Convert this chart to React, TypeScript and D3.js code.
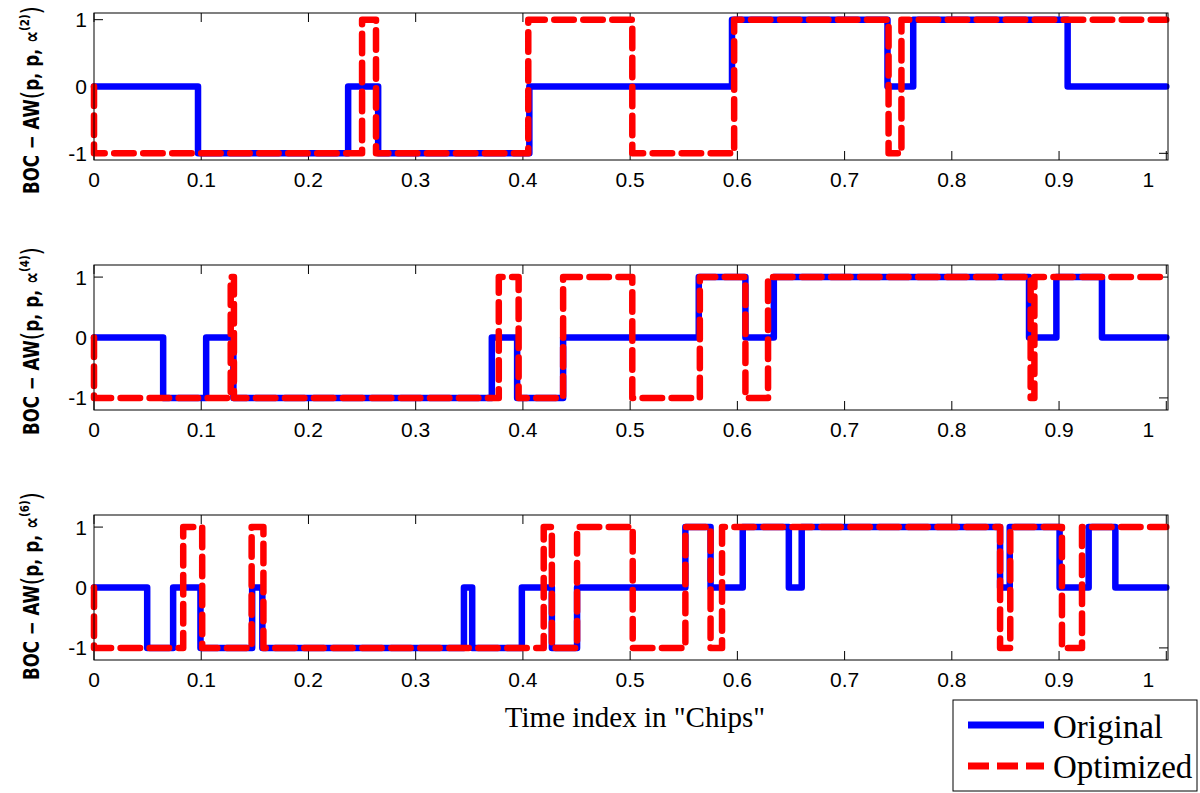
import React from "react";
import * as d3 from "d3";

// ---- data (step signals: edges has one more entry than levels) ----
const xTicks = [0, 0.1, 0.2, 0.3, 0.4, 0.5, 0.6, 0.7, 0.8, 0.9, 1];
const xTickLabels = ["0", "0.1", "0.2", "0.3", "0.4", "0.5", "0.6", "0.7", "0.8", "0.9", "1"];
const yTicks = [-1, 0, 1];
const yTickLabels = ["-1", "0", "1"];
const seriesNames = ["Original", "Optimized"];
const panelOrders = ["2", "4", "6"];

const p1OrigEdges = [0, 0.097, 0.237, 0.265, 0.406, 0.595, 0.74, 0.764, 0.908, 1.0];
const p1OrigLevels = [0, -1, 0, -1, 0, 1, 0, 1, 0];
const p1OptEdges = [0, 0, 0.25, 0.263, 0.405, 0.502, 0.597, 0.741, 0.753, 1.0];
const p1OptLevels = [0, -1, 1, -1, 1, -1, 1, -1, 1];

const p2OrigEdges = [0, 0.0645, 0.1046, 0.13, 0.371, 0.3946, 0.4375, 0.564, 0.6075, 0.634, 0.872, 0.8975, 0.94, 1.0];
const p2OrigLevels = [0, -1, 0, -1, 0, -1, 0, 1, 0, 1, 0, 1, 0];
const p2OptEdges = [0, 0, 0.1275, 0.1305, 0.3775, 0.396, 0.4375, 0.502, 0.565, 0.6075, 0.6286, 0.8735, 0.877, 1.0];
const p2OptLevels = [0, -1, 1, -1, 1, -1, 1, -1, 1, -1, 1, -1, 1];

const p3OrigEdges = [0, 0.0496, 0.0738, 0.0993, 0.1475, 0.157, 0.345, 0.3527, 0.399, 0.427, 0.4505, 0.5515, 0.575, 0.605, 0.648, 0.66, 0.845, 0.854, 0.9005, 0.9276, 0.9525, 1.0];
const p3OrigLevels = [0, -1, 0, -1, 0, -1, 0, -1, 0, -1, 0, 1, 0, 1, 0, 1, 0, 1, 0, 1, 0];
const p3OptEdges = [0, 0, 0.0832, 0.1009, 0.147, 0.158, 0.4194, 0.427, 0.4505, 0.5024, 0.5515, 0.575, 0.5857, 0.845, 0.8545, 0.9027, 0.9214, 1.0];
const p3OptLevels = [0, -1, 1, -1, 1, -1, 1, -1, 1, -1, 1, -1, 1, -1, 1, -1, 1];

const panels = [
  { orig: [p1OrigEdges, p1OrigLevels], opt: [p1OptEdges, p1OptLevels], ylim: [-1.1, 1.1], top: 13, bottom: 160, labelY: 100, order: panelOrders[0] },
  { orig: [p2OrigEdges, p2OrigLevels], opt: [p2OptEdges, p2OptLevels], ylim: [-1.2, 1.2], top: 265, bottom: 410, labelY: 341, order: panelOrders[1] },
  { orig: [p3OrigEdges, p3OrigLevels], opt: [p3OptEdges, p3OptLevels], ylim: [-1.2, 1.2], top: 515, bottom: 660, labelY: 586, order: panelOrders[2] },
];

const LEFT = 94;
const RIGHT = 1168;
const BLUE = "#0000ff";
const RED = "#ff0000";
const tickFont = "'Liberation Sans', Arial, Helvetica, sans-serif";
const serif = "'Liberation Serif', 'Times New Roman', serif";
const narrow = "'Liberation Sans Narrow', 'DejaVu Sans Condensed', sans-serif";

function toPoints(edges: number[], levels: number[]): [number, number][] {
  const pts: [number, number][] = levels.map((v, i) => [edges[i], v]);
  pts.push([edges[edges.length - 1], levels[levels.length - 1]]);
  return pts;
}

function Panel({ p }: { p: any }) {
  const x = d3.scaleLinear().domain([0, 1.0016]).range([LEFT, RIGHT]);
  const y = d3.scaleLinear().domain(p.ylim).range([p.bottom, p.top]);
  const line = d3
    .line<[number, number]>()
    .x((d) => x(d[0]))
    .y((d) => y(d[1]))
    .curve(d3.curveStepAfter);
  const origPath = line(toPoints(p.orig[0], p.orig[1])) || "";
  const optPath = line(toPoints(p.opt[0], p.opt[1])) || "";
  const tl = 9;
  return (
    <g>
      <rect x={LEFT} y={p.top} width={RIGHT - LEFT} height={p.bottom - p.top} fill="white" stroke="none" />
      {xTicks.map((t, i) => (
        <g key={"xt" + i}>
          <line x1={x(t)} x2={x(t)} y1={p.bottom} y2={p.bottom - tl} stroke="#000" strokeWidth={1} />
          <line x1={x(t)} x2={x(t)} y1={p.top} y2={p.top + tl} stroke="#000" strokeWidth={1} />
          <text
            x={x(t) + (i === xTicks.length - 1 ? -18 : 0)}
            y={p.bottom + 27}
            textAnchor="middle"
            fontFamily={tickFont}
            fontSize={21}
            fill="#000"
          >
            {xTickLabels[i]}
          </text>
        </g>
      ))}
      {yTicks.map((t, i) => (
        <g key={"yt" + i}>
          <line x1={LEFT} x2={LEFT + tl} y1={y(t)} y2={y(t)} stroke="#000" strokeWidth={1} />
          <line x1={RIGHT} x2={RIGHT - tl} y1={y(t)} y2={y(t)} stroke="#000" strokeWidth={1} />
          <text x={LEFT - 7} y={y(t)} dy="0.36em" textAnchor="end" fontFamily={tickFont} fontSize={21} fill="#000">
            {yTickLabels[i]}
          </text>
        </g>
      ))}
      <path d={origPath} fill="none" stroke={BLUE} strokeWidth={6.5} strokeLinecap="round" strokeLinejoin="round" />
      <path
        d={optPath}
        fill="none"
        stroke={RED}
        strokeWidth={6.5}
        strokeLinecap="round"
        strokeLinejoin="round"
        strokeDasharray="19.5 9.5"
      />
      <rect x={LEFT} y={p.top} width={RIGHT - LEFT} height={p.bottom - p.top} fill="none" stroke="#000" strokeWidth={1} />
      <text
        transform={`translate(39,${p.labelY}) rotate(-90) scale(0.88,1)`}
        textAnchor="middle"
        fontFamily={narrow}
        fontWeight="bold"
        fontSize={21}
        fill="#000"
      >
        <tspan>BOC − AW</tspan>
        <tspan fontSize={27} fontWeight="normal" dy="1">(</tspan>
        <tspan dy="-1">p, p, ∝</tspan>
        <tspan fontSize={13} dy="-10">({p.order})</tspan>
        <tspan fontSize={27} fontWeight="normal" dy="11">)</tspan>
      </text>
    </g>
  );
}

export default function App() {
  return (
    <svg
      width={1200}
      height={793}
      viewBox="0 0 1200 793"
      style={{ position: "absolute", left: 0, top: 0, background: "#fff" }}
    >
      <rect x={0} y={0} width={1200} height={793} fill="#fff" />
      {panels.map((p, i) => (
        <Panel key={i} p={p} />
      ))}
      <text x={635} y={727} textAnchor="middle" fontFamily={serif} fontSize={29} fill="#000">
        Time index in "Chips"
      </text>
      <g>
        <rect x={953} y={700} width={244} height={91} fill="#fff" stroke="#000" strokeWidth={1} />
        <line x1={968} x2={1044} y1={725} y2={725} stroke={BLUE} strokeWidth={7} />
        <text x={1053} y={738} fontFamily={serif} fontSize={33} fill="#000">
          {seriesNames[0]}
        </text>
        <line x1={968} x2={1044} y1={766} y2={766} stroke={RED} strokeWidth={7} strokeDasharray="21 8" />
        <text x={1053} y={778} fontFamily={serif} fontSize={33} fill="#000">
          {seriesNames[1]}
        </text>
      </g>
    </svg>
  );
}
